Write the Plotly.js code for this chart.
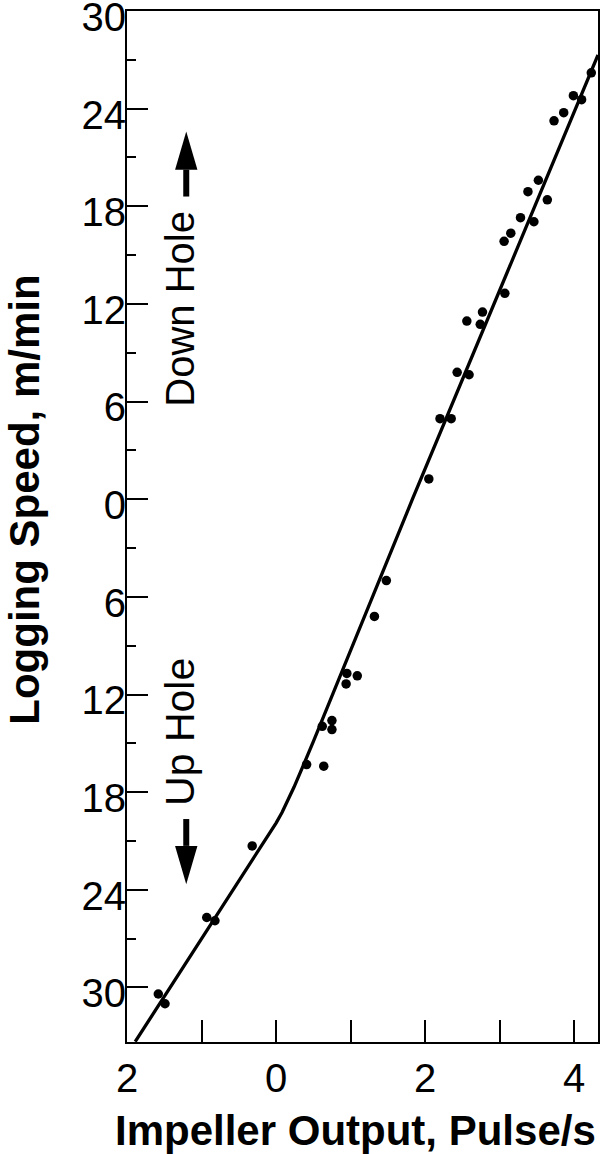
<!DOCTYPE html>
<html>
<head>
<meta charset="utf-8">
<script src="https://cdn.plot.ly/plotly-3.0.1.min.js"></script>
<style>
  html, body { margin: 0; padding: 0; background: #ffffff; }
  #chart { width: 603px; height: 1154px; }
</style>
</head>
<body>
<div id="chart"></div>
<script>
// Measured points: impeller output (pulse/s) against logging speed (m/min).
// Negative speeds are up hole, positive speeds down hole.
const pulseRate = [
    4.23, 3.99, 4.10, 3.86, 3.73, 3.52, 3.38, 3.64, 3.28, 3.46, 3.15, 3.06,
    3.07, 2.77, 2.56, 2.74, 2.43, 2.59, 2.20, 2.35, 2.05,
    1.48, 1.32, 0.95, 1.09, 0.94, 0.75, 0.62, 0.75, 0.41, 0.64,
    -0.32, -0.93, -0.82, -1.58, -1.49
];
const loggingSpeed = [
    26.2, 24.8, 24.55, 23.75, 23.25, 19.6, 18.9, 18.4, 17.3, 17.05, 16.35, 15.85,
    12.65, 11.5, 10.95, 10.75, 7.8, 7.65, 4.95, 4.95, 1.25,
    -5.0, -7.2, -10.7, -10.85, -11.35, -13.6, -13.95, -14.15, -16.3, -16.4,
    -21.3, -25.7, -25.9, -30.4, -31.0
];

// Calibration curve as drawn (knee near zero pulse rate).
const curveX = [-1.89, -0.30, 0.00, 0.08, 0.16, 0.24, 0.32, 0.50, 1.83, 3.22, 4.32];
const curveY = [-33.33, -22.1, -19.9, -19.25, -18.5, -17.7, -16.85, -14.9, 0.0, 15.3, 27.3];

// Axis ticks: labels show magnitude only.
const speedTicks = [-30, -24, -18, -12, -6, 0, 6, 12, 18, 24, 30];
const speedLabels = speedTicks.map(v => String(Math.abs(v)));
const speedMinor = [-27, -21, -15, -9, -3, 3, 9, 15, 21, 27];
const pulseTicks = [-2, -1, 0, 1, 2, 3, 4];
const pulseLabels = ['2', '', '0', '', '2', '', '4'];

const speedRange = [-33.35, 30];
// In the original the speed labels sit a few pixels below their ticks.
const labelDrop = 0.36;

const font = 'Liberation Sans, Arial, Helvetica, sans-serif';

// Direction arrows (up = down hole, down = up hole).
const arrowX = -1.205;
const arrowHalf = 0.15;
function arrowShapes(tip, base, tail) {
    return [
        {
            type: 'path', xref: 'x', yref: 'y',
            path: `M ${arrowX},${tip} L ${arrowX - arrowHalf},${base} L ${arrowX + arrowHalf},${base} Z`,
            fillcolor: '#000000', line: { width: 0 }
        },
        {
            type: 'line', xref: 'x', yref: 'y',
            x0: arrowX, x1: arrowX, y0: base, y1: tail,
            line: { color: '#000000', width: 6 }
        }
    ];
}

Plotly.newPlot(document.getElementById('chart'), [
    {
        x: curveX,
        y: curveY,
        type: 'scatter',
        mode: 'lines',
        line: { color: '#000000', width: 3.3 },
        hoverinfo: 'skip'
    },
    {
        x: pulseRate,
        y: loggingSpeed,
        type: 'scatter',
        mode: 'markers',
        marker: { color: '#000000', size: 9.5 }
    },
    {
        // Empty trace so the label-only axis gets drawn.
        x: [], y: [], xaxis: 'x', yaxis: 'y2',
        type: 'scatter', mode: 'markers', hoverinfo: 'skip'
    }
], {
    width: 603,
    height: 1154,
    margin: { l: 127, r: 5, t: 11, b: 112 },
    paper_bgcolor: '#ffffff',
    plot_bgcolor: '#ffffff',
    showlegend: false,
    xaxis: {
        range: [-2, 4.32],
        tickmode: 'array', tickvals: pulseTicks, ticktext: pulseLabels,
        ticks: 'inside', ticklen: 22, tickwidth: 2, tickcolor: '#000000',
        showline: true, mirror: true, linewidth: 2, linecolor: '#000000',
        showgrid: false, zeroline: false, fixedrange: true,
        ticklabeloverflow: 'allow',
        tickfont: { family: font, size: 40, color: '#000000' }
    },
    yaxis: {
        range: speedRange,
        tickmode: 'array', tickvals: speedTicks,
        showticklabels: false,
        ticks: 'inside', ticklen: 21, tickwidth: 2, tickcolor: '#000000',
        minor: { tickmode: 'array', tickvals: speedMinor, ticks: 'inside', ticklen: 9, tickwidth: 2, tickcolor: '#000000' },
        showline: true, mirror: true, linewidth: 2, linecolor: '#000000',
        showgrid: false, zeroline: false, fixedrange: true
    },
    // Label-only axis, shifted so labels sit slightly under their ticks.
    yaxis2: {
        overlaying: 'y', side: 'left', anchor: 'x',
        range: [speedRange[0] + labelDrop, speedRange[1] + labelDrop],
        tickmode: 'array', tickvals: speedTicks, ticktext: speedLabels,
        ticks: '', showline: false, showgrid: false, zeroline: false, fixedrange: true,
        ticklabeloverflow: 'allow',
        tickfont: { family: font, size: 40, color: '#000000' }
    },
    shapes: [
        ...arrowShapes(22.6, 20.25, 18.6),
        ...arrowShapes(-23.65, -21.3, -19.65)
    ],
    annotations: [
        {
            text: 'Down Hole', x: -1.29, y: 11.7, xref: 'x', yref: 'y',
            textangle: -90, showarrow: false,
            font: { family: font, size: 40, color: '#000000' }
        },
        {
            text: 'Up Hole', x: -1.29, y: -14.3, xref: 'x', yref: 'y',
            textangle: -90, showarrow: false,
            font: { family: font, size: 41, color: '#000000' }
        },
        {
            text: 'Impeller Output, Pulse/s', x: 0.486, y: 0, xref: 'paper', yref: 'paper',
            yanchor: 'middle', yshift: -88, showarrow: false,
            font: { family: font, size: 42, weight: 'bold', color: '#000000' }
        },
        {
            text: 'Logging Speed, m/min', x: 0, y: 0.526, xref: 'paper', yref: 'paper',
            xanchor: 'center', xshift: -102, textangle: -90, showarrow: false,
            font: { family: font, size: 42, weight: 'bold', color: '#000000' }
        }
    ]
}, { staticPlot: true });
</script>
</body>
</html>
